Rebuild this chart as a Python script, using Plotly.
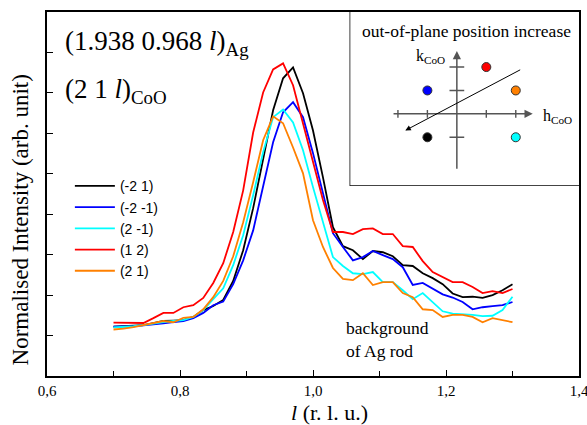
import plotly.graph_objects as go

# ---------------- data ----------------
l_values = [0.700, 0.715, 0.730, 0.745, 0.760, 0.775, 0.790, 0.805, 0.820, 0.835,
            0.850, 0.865, 0.880, 0.895, 0.910, 0.925, 0.940, 0.955, 0.970, 0.985,
            1.000, 1.015, 1.030, 1.045, 1.060, 1.075, 1.090, 1.105, 1.120, 1.135,
            1.150, 1.165, 1.180, 1.195, 1.210, 1.225, 1.240, 1.255, 1.270, 1.285,
            1.300]

I_m2_1 = [1.22, 1.23, 1.25, 1.26, 1.31, 1.36, 1.37, 1.38, 1.46, 1.63,
          1.73, 1.88, 2.35, 3.11, 4.15, 5.33, 6.57, 7.36, 7.63, 6.99,
          6.07, 4.91, 3.68, 3.21, 3.11, 2.89, 3.09, 3.06, 2.96, 2.74,
          2.72, 2.54, 2.42, 2.27, 2.04, 1.95, 1.96, 1.93, 2.00, 2.12,
          2.27]

I_m2_m1 = [1.22, 1.22, 1.23, 1.25, 1.27, 1.30, 1.33, 1.36, 1.43, 1.56,
           1.75, 1.84, 2.27, 2.86, 3.60, 4.72, 5.78, 6.52, 6.77, 6.40,
           5.51, 4.52, 3.53, 3.19, 2.86, 2.94, 3.09, 2.99, 2.89, 2.69,
           2.25, 2.30, 2.15, 2.02, 1.94, 1.83, 1.65, 1.70, 1.73, 1.75,
           1.83]

I_2_m1 = [1.20, 1.21, 1.23, 1.26, 1.30, 1.33, 1.36, 1.38, 1.46, 1.63,
          1.90, 2.17, 2.74, 3.48, 4.47, 5.53, 6.40, 6.59, 6.27, 5.58,
          4.67, 3.78, 2.94, 2.72, 2.54, 2.52, 2.57, 2.32, 2.32, 2.12,
          1.90, 2.05, 1.83, 1.60, 1.54, 1.53, 1.51, 1.48, 1.49, 1.63,
          1.96]

I_1_2 = [1.32, 1.32, 1.31, 1.31, 1.43, 1.56, 1.56, 1.70, 1.75, 1.93,
         2.30, 2.79, 3.56, 4.59, 6.02, 7.01, 7.58, 7.73, 7.19, 6.25,
         5.26, 4.35, 3.56, 3.56, 3.51, 3.63, 3.65, 3.51, 3.51, 3.21,
         3.19, 2.84, 2.57, 2.44, 2.32, 2.32, 2.20, 2.05, 2.10, 2.05,
         2.15]

I_2_1 = [1.15, 1.17, 1.21, 1.26, 1.30, 1.36, 1.33, 1.44, 1.46, 1.65,
         1.95, 2.35, 2.96, 3.80, 4.79, 5.83, 6.42, 6.25, 5.65, 5.01,
         3.85, 3.19, 2.67, 2.40, 2.37, 2.54, 2.25, 2.32, 2.32, 2.05,
         1.95, 1.65, 1.63, 1.46, 1.51, 1.51, 1.46, 1.33, 1.43, 1.38,
         1.33]

series_names = ["(-2 1)", "(-2 -1)", "(2 -1)", "(1 2)", "(2 1)"]
series_values = [I_m2_1, I_m2_m1, I_2_m1, I_1_2, I_2_1]
series_colors = ["#000000", "#0000ff", "#00ffff", "#ff0000", "#ff8000"]

x_tick_vals = [0.6, 0.8, 1.0, 1.2, 1.4]
x_tick_labels = ["0,6", "0,8", "1,0", "1,2", "1,4"]
y_tick_vals = [1, 2, 3, 4, 5, 6, 7, 8]

# inset schematic (h, k positions of the reflections, same order/colours)
inset_h = [-1, -1, 2, 1, 2]
inset_k = [-1, 1, -1, 2, 1]
inset_h_ticks = [-2, -1, 1, 2]
inset_k_ticks = [-1, 1, 2]

SERIF = "Liberation Serif"
SANS = "Liberation Sans"

fig = go.Figure()

for name, vals, col in zip(series_names, series_values, series_colors):
    fig.add_trace(go.Scatter(x=l_values, y=vals, mode="lines", name=name,
                             line=dict(color=col, width=1.8)))

# inset tick marks
tx, ty = [], []
for h in inset_h_ticks:
    tx += [h, h, None]
    ty += [-0.17, 0.17, None]
for k in inset_k_ticks:
    tx += [-0.25, 0.25, None]
    ty += [k, k, None]
fig.add_trace(go.Scatter(x=tx, y=ty, mode="lines", xaxis="x2", yaxis="y2",
                         line=dict(color="#555555", width=1.4),
                         showlegend=False, hoverinfo="skip"))
# inset dots
fig.add_trace(go.Scatter(x=inset_h, y=inset_k, mode="markers", xaxis="x2", yaxis="y2",
                         marker=dict(size=9, color=series_colors,
                                     line=dict(color="#333333", width=1)),
                         showlegend=False, hoverinfo="skip"))

inset_dom_x = [0.5701, 1.0]
inset_dom_y = [0.524, 1.0]

annotations = [
    # inset axes arrows
    dict(x=2.576, y=0, ax=-2.20, ay=0, xref="x2", yref="y2", axref="x2", ayref="y2",
         showarrow=True, arrowhead=2, arrowsize=1.1, arrowwidth=1.5, arrowcolor="#555555", text=""),
    dict(x=0, y=2.69, ax=0, ay=-2.41, xref="x2", yref="y2", axref="x2", ayref="y2",
         showarrow=True, arrowhead=2, arrowsize=1.1, arrowwidth=1.5, arrowcolor="#555555", text=""),
    dict(x=-1.75, y=-0.71, ax=2.20, ay=1.915, xref="x2", yref="y2", axref="x2", ayref="y2",
         showarrow=True, arrowhead=2, arrowsize=1.1, arrowwidth=1, arrowcolor="#000000", text=""),
    dict(x=-0.9, y=2.45, xref="x2", yref="y2", showarrow=False, xanchor="center", yanchor="middle",
         text="k<sub>CoO</sub>", font=dict(family=SERIF, size=16, color="black")),
    dict(x=3.4, y=-0.1, xref="x2", yref="y2", showarrow=False, xanchor="center", yanchor="middle",
         text="h<sub>CoO</sub>", font=dict(family=SERIF, size=16, color="black")),
    dict(x=0.788, y=0.949, xref="paper", yref="paper", showarrow=False,
         xanchor="center", yanchor="middle",
         text="out-of-plane position increase", font=dict(family=SERIF, size=17.5, color="black")),
    # main labels
    dict(x=0.0305, y=0.9657, xref="paper", yref="paper", xanchor="left", yanchor="top",
         showarrow=False, text="(1.938 0.968 <i>l</i>)<sub>Ag</sub>",
         font=dict(family=SERIF, size=27, color="black")),
    dict(x=0.0305, y=0.834, xref="paper", yref="paper", xanchor="left", yanchor="top",
         showarrow=False, text="(2 1 <i>l</i>)<sub>CoO</sub>",
         font=dict(family=SERIF, size=27, color="black")),
    dict(x=0.5576, y=0.165, xref="paper", yref="paper", xanchor="left", yanchor="top",
         showarrow=False, align="left", text="background<br>of Ag rod",
         font=dict(family=SERIF, size=17.5, color="black")),
    # axis titles
    dict(x=0.5307, y=-0.099, xref="paper", yref="paper", showarrow=False,
         xanchor="center", yanchor="middle",
         text="<i>l</i> (r. l. u.)", font=dict(family=SERIF, size=22, color="black")),
    dict(x=-0.0504, y=0.428, xref="paper", yref="paper", showarrow=False, textangle=-90,
         xanchor="center", yanchor="middle",
         text="Normalised Intensity (arb. unit)", font=dict(family=SERIF, size=23, color="black")),
]

fig.update_layout(
    width=587, height=425,
    margin=dict(l=47, r=8, t=11.5, b=49, pad=0, autoexpand=False),
    paper_bgcolor="white", plot_bgcolor="white",
    showlegend=True,
    legend=dict(x=0.043, y=0.565, xanchor="left", yanchor="top",
                bgcolor="rgba(0,0,0,0)", borderwidth=0,
                font=dict(family=SANS, size=14, color="black"),
                itemwidth=40, tracegroupgap=0),
    xaxis=dict(range=[0.6, 1.4], tickvals=x_tick_vals, ticktext=x_tick_labels,
               automargin=False, ticklabeloverflow="allow",
               ticks="inside", ticklen=6, tickwidth=1.2, tickcolor="black",
               minor=dict(ticks="inside", dtick=0.1, tick0=0.6, ticklen=5, tickwidth=1.2,
                          tickcolor="black"),
               showline=True, linewidth=1.5, linecolor="black", mirror=True,
               showgrid=False, zeroline=False,
               tickfont=dict(family=SERIF, size=15, color="black")),
    yaxis=dict(range=[0, 9], tickvals=y_tick_vals, showticklabels=False,
               automargin=False,
               ticks="inside", ticklen=6, tickwidth=1.2, tickcolor="black",
               showline=True, linewidth=1.5, linecolor="black", mirror=True,
               showgrid=False, zeroline=False),
    xaxis2=dict(domain=inset_dom_x, range=[-3.617, 4.146], visible=False, anchor="y2",
                fixedrange=True),
    yaxis2=dict(domain=inset_dom_y, range=[-3.051, 4.353], visible=False, anchor="x2",
                fixedrange=True),
    shapes=[dict(type="rect", xref="paper", yref="paper",
                 x0=inset_dom_x[0], x1=inset_dom_x[1], y0=inset_dom_y[0], y1=inset_dom_y[1],
                 line=dict(color="black", width=1.5), fillcolor="white", layer="below")],
    annotations=annotations,
)

# remove the browser's default 8px page margin so the 587x425 figure fills the window
fig.write_html("out.html",
               config={"displayModeBar": False},
               post_script="document.body.style.margin='0';document.body.style.overflow='hidden';")
